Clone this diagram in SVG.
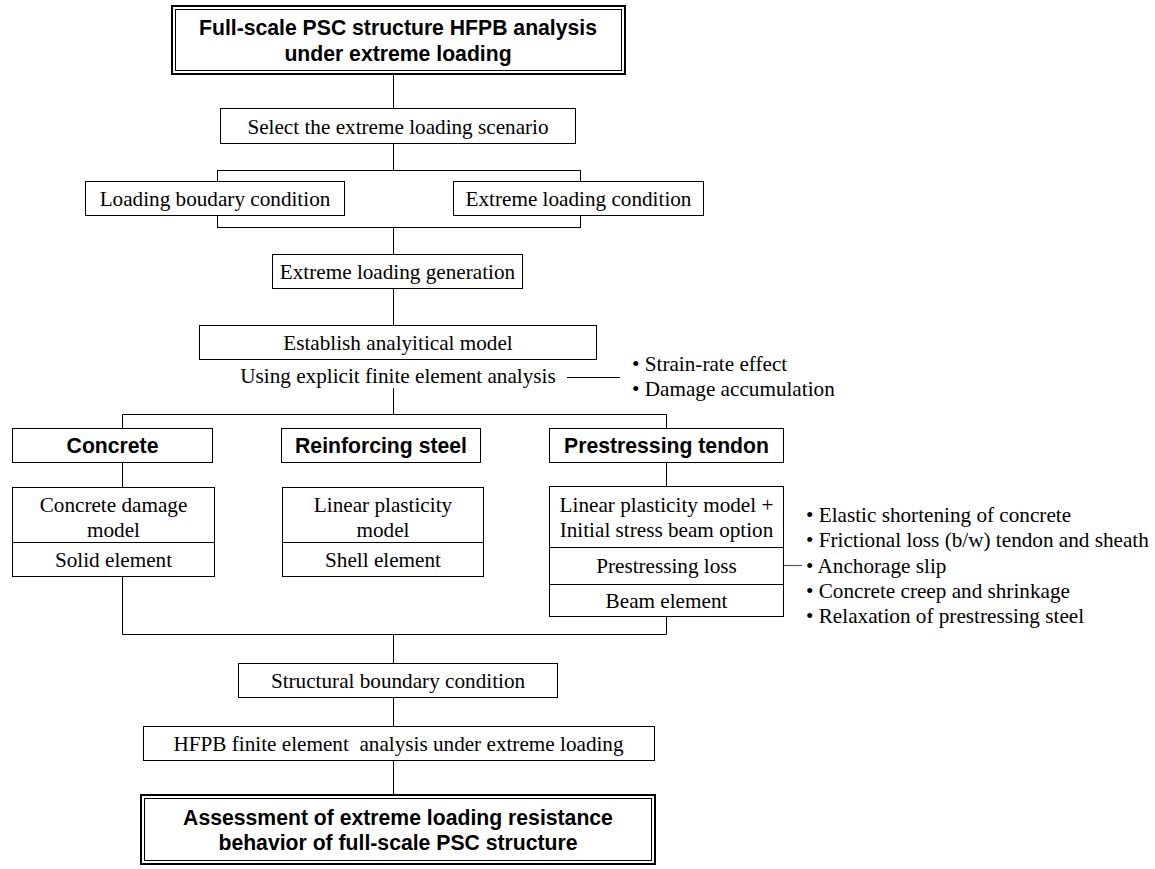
<svg xmlns="http://www.w3.org/2000/svg" width="1155" height="869" viewBox="0 0 1155 869">
<style>
.bx{fill:#fff;stroke:#000;stroke-width:1}
.ob{fill:#fff;stroke:#000;stroke-width:2}
.ib{fill:none;stroke:#000;stroke-width:1}
.ln{fill:none;stroke:#000;stroke-width:1}
.t{font-family:"Liberation Serif","Times New Roman",serif;font-size:21.2px;fill:#000}
.c{text-anchor:middle}
.b{font-family:"Liberation Sans",Arial,sans-serif;font-size:21.2px;font-weight:bold;fill:#000;text-anchor:middle}
</style>
<rect width="1155" height="869" fill="#fff"/>
<g id="connectors">
<path class="ln" d="M393.5,74 V108 M393.5,144 V170.5"/>
<rect class="ln" x="217.5" y="170.5" width="363" height="57"/>
<path class="ln" d="M393.5,227 V254 M393.5,289 V325 M393.5,388 V414.5"/>
<path class="ln" d="M567,377.5 H620"/>
<path class="ln" d="M122.5,414.5 H666.5 M122.5,414.5 V428 M666.5,414.5 V428 M122.5,463 V487 M666.5,463 V486 M122.5,577 V634.5 M666.5,617 V634.5 M122.5,634.5 H666.5"/>
<path class="ln" d="M393.5,634.5 V663 M393.5,698 V726 M393.5,761 V795"/>
<path d="M783,565.5 H802" stroke="#555" stroke-width="1.2" fill="none"/>
</g>
<g id="n-top">
<rect class="ob" x="172" y="6" width="453" height="68"/>
<rect class="ib" x="175.5" y="9.5" width="446" height="61"/>
<text class="b" x="398" y="35">Full-scale PSC structure HFPB analysis</text>
<text class="b" x="398" y="61">under extreme loading</text>
</g>
<g id="n-select">
<rect class="bx" x="220.5" y="108.5" width="355" height="35"/>
<text class="t c" x="398" y="133.5">Select the extreme loading scenario</text>
</g>
<g id="n-loadbc">
<rect class="bx" x="85.5" y="181.5" width="259" height="34"/>
<text class="t c" x="215" y="205.5">Loading boudary condition</text>
</g>
<g id="n-extcond">
<rect class="bx" x="453.5" y="181.5" width="250" height="34"/>
<text class="t c" x="578.5" y="205.5">Extreme loading condition</text>
</g>
<g id="n-gen">
<rect class="bx" x="272.5" y="254.5" width="250" height="34"/>
<text class="t c" x="397.5" y="278.5">Extreme loading generation</text>
</g>
<g id="n-model">
<rect class="bx" x="199.5" y="325.5" width="397" height="34"/>
<text class="t c" x="398" y="349.5">Establish analyitical model</text>
<text class="t c" x="398" y="383">Using explicit finite element analysis</text>
</g>
<g id="n-effects">
<text class="t" x="632" y="371">• Strain-rate effect</text>
<text class="t" x="632" y="396">• Damage accumulation</text>
</g>
<g id="n-concrete">
<rect class="bx" x="12.5" y="428.5" width="200" height="34"/>
<text class="b" x="112.5" y="453">Concrete</text>
</g>
<g id="n-rebar">
<rect class="bx" x="281.5" y="428.5" width="199" height="34"/>
<text class="b" x="381" y="453">Reinforcing steel</text>
</g>
<g id="n-tendon">
<rect class="bx" x="549.5" y="428.5" width="234" height="34"/>
<text class="b" x="666.5" y="453">Prestressing tendon</text>
</g>
<g id="n-concrete-model">
<rect class="bx" x="12.5" y="487.5" width="202" height="89"/>
<path class="ln" d="M12.5,542.5 H214.5"/>
<text class="t c" x="113.5" y="512">Concrete damage</text>
<text class="t c" x="113.5" y="537">model</text>
<text class="t c" x="113.5" y="567">Solid element</text>
</g>
<g id="n-rebar-model">
<rect class="bx" x="282.5" y="487.5" width="201" height="89"/>
<path class="ln" d="M282.5,542.5 H483.5"/>
<text class="t c" x="383" y="512">Linear plasticity</text>
<text class="t c" x="383" y="537">model</text>
<text class="t c" x="383" y="567">Shell element</text>
</g>
<g id="n-tendon-model">
<rect class="bx" x="549.5" y="486.5" width="234" height="130"/>
<path class="ln" d="M549.5,547.5 H783.5 M549.5,584.5 H783.5"/>
<text class="t c" x="666.5" y="512">Linear plasticity model +</text>
<text class="t c" x="666.5" y="537">Initial stress beam option</text>
<text class="t c" x="666.5" y="573">Prestressing loss</text>
<text class="t c" x="666.5" y="607.5">Beam element</text>
</g>
<g id="n-losses">
<text class="t" x="806" y="522">• Elastic shortening of concrete</text>
<text class="t" x="806" y="547">• Frictional loss (b/w) tendon and sheath</text>
<text class="t" x="806" y="573">• Anchorage slip</text>
<text class="t" x="806" y="598">• Concrete creep and shrinkage</text>
<text class="t" x="806" y="623">• Relaxation of prestressing steel</text>
</g>
<g id="n-structbc">
<rect class="bx" x="238.5" y="663.5" width="319" height="34"/>
<text class="t c" x="398" y="687.5">Structural boundary condition</text>
</g>
<g id="n-hfpb">
<rect class="bx" x="143.5" y="726.5" width="511" height="34"/>
<text class="t c" x="398.5" y="750.5" xml:space="preserve">HFPB finite element  analysis under extreme loading</text>
</g>
<g id="n-assess">
<rect class="ob" x="141" y="795" width="514" height="69"/>
<rect class="ib" x="144.5" y="798.5" width="507" height="62"/>
<text class="b" x="398" y="825">Assessment of extreme loading resistance</text>
<text class="b" x="398" y="850">behavior of full-scale PSC structure</text>
</g>
</svg>
